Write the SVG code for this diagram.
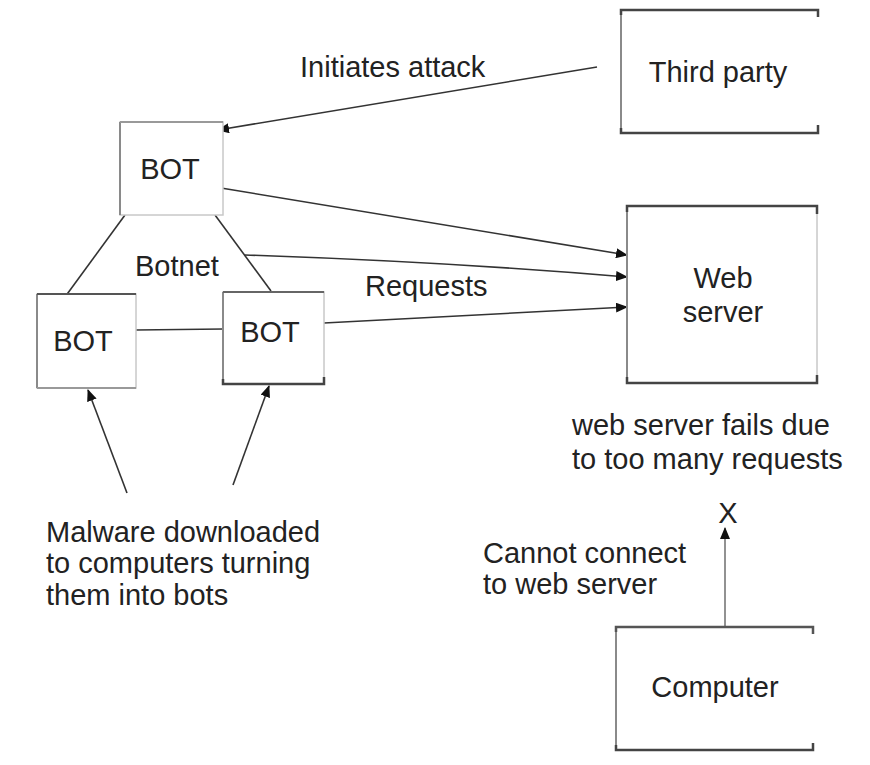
<svg xmlns="http://www.w3.org/2000/svg" width="870" height="765" viewBox="0 0 870 765">
<style>
text{font-family:"Liberation Sans",Arial,sans-serif;font-size:29px;fill:#222}
.c{text-anchor:middle}
.box{fill:#fff;stroke:#c8c8c8;stroke-width:1.5}
.lft{stroke:#8a8a8a;stroke-width:2;fill:none}
.edge{stroke:#444;stroke-width:2.5;fill:none}
.ln{stroke:#333;stroke-width:1.6;fill:none}
.ar{stroke:#333;stroke-width:1.6;fill:none;marker-end:url(#ah)}
</style>
<defs>
<marker id="ah" viewBox="0 0 12 10" refX="11" refY="5" markerWidth="12" markerHeight="10" markerUnits="userSpaceOnUse" orient="auto">
<path d="M0,0 L12,5 L0,10 Z" fill="#111"/>
</marker>
</defs>
<rect width="870" height="765" fill="#fff"/>

<g id="connectors">
<line class="ar" x1="597" y1="67" x2="218" y2="130"/>
<line class="ln" x1="125" y1="215" x2="65" y2="297"/>
<line class="ln" x1="215" y1="215" x2="271" y2="291"/>
<line class="ln" x1="136" y1="330" x2="223" y2="329"/>
<line class="ar" x1="221" y1="188" x2="627" y2="255"/>
<path class="ar" d="M245,255 Q450,262 627,277"/>
<line class="ar" x1="324" y1="323" x2="627" y2="307"/>
<line class="ar" x1="127" y1="493" x2="88" y2="390"/>
<line class="ar" x1="233" y1="485" x2="269" y2="386"/>
<line class="ar" x1="725" y1="627" x2="725" y2="528" style="stroke:#777"/>
</g>

<g id="third-party">
<rect class="box" x="621" y="10" width="197" height="123" style="stroke:none"/>
<line class="lft" x1="621" y1="10" x2="621" y2="133"/>
<path class="edge" d="M621,15 V10 H818 V17"/>
<path class="edge" d="M621,128 V133 H818 V125"/>
<text class="c" x="718" y="82">Third party</text>
</g>

<g id="bot-top">
<rect class="box" x="120" y="122" width="103" height="93"/>
<line class="lft" x1="120" y1="122" x2="120" y2="215"/>
<line x1="120" y1="122" x2="223" y2="122" stroke="#999" stroke-width="2"/>
<text class="c" x="170" y="179">BOT</text>
</g>

<g id="bot-left">
<rect class="box" x="37" y="294" width="99" height="94"/>
<line class="lft" x1="37" y1="294" x2="37" y2="388"/>
<line x1="37" y1="294" x2="136" y2="294" stroke="#555" stroke-width="2"/>
<line x1="37" y1="388" x2="136" y2="388" stroke="#999" stroke-width="2"/>
<text class="c" x="83" y="351">BOT</text>
</g>

<g id="bot-right">
<rect class="box" x="223" y="292" width="101" height="92"/>
<line class="lft" x1="223" y1="292" x2="223" y2="384"/>
<line x1="223" y1="292" x2="324" y2="292" stroke="#666" stroke-width="2"/>
<path class="edge" d="M223,379 V384 H324 V377"/>
<text class="c" x="270" y="342">BOT</text>
</g>

<g id="web-server">
<rect class="box" x="627" y="206" width="190" height="177"/>
<line class="lft" x1="627" y1="206" x2="627" y2="383"/>
<path class="edge" d="M627,212 V206 H817 V214"/>
<path class="edge" d="M627,377 V383 H817 V375"/>
<text class="c" x="723" y="288">Web</text>
<text class="c" x="723" y="322">server</text>
</g>

<g id="computer">
<line class="lft" x1="616" y1="627" x2="616" y2="750"/>
<path class="edge" d="M616,632 V627 H813 V634" style="stroke:#555"/>
<path class="edge" d="M616,745 V750 H813 V743"/>
<text class="c" x="715" y="697">Computer</text>
</g>

<g id="labels">
<text x="300" y="77">Initiates attack</text>
<text x="135" y="276">Botnet</text>
<text x="365" y="296">Requests</text>
<text x="572" y="435">web server fails due</text>
<text x="572" y="469">to too many requests</text>
<text class="c" x="728" y="523">X</text>
<text x="483" y="563">Cannot connect</text>
<text x="483" y="594">to web server</text>
<text x="46" y="542">Malware downloaded</text>
<text x="46" y="573">to computers turning</text>
<text x="46" y="605">them into bots</text>
</g>
</svg>
